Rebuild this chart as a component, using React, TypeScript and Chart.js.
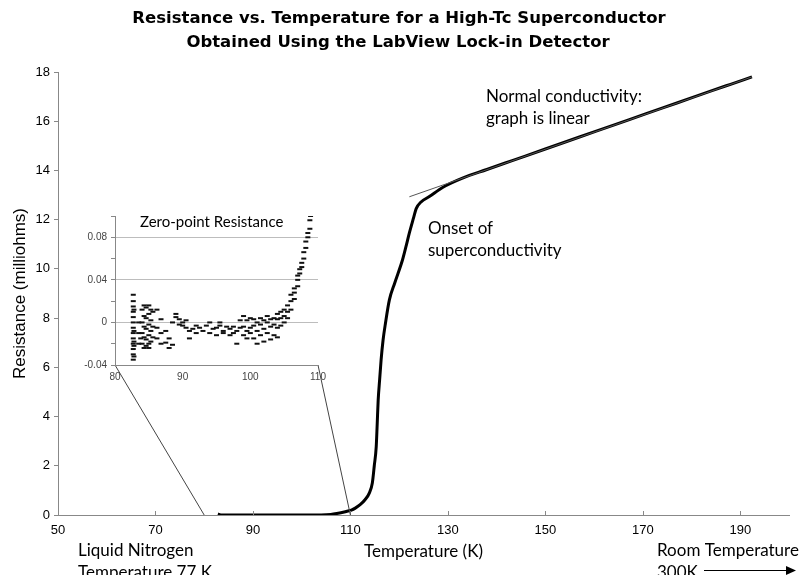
import React, { useEffect, useRef } from 'react';
import { Chart, registerables } from 'chart.js';

Chart.register(...registerables);

// ---------- data ----------
const titleLines = [
  'Resistance vs. Temperature for a High-Tc Superconductor',
  'Obtained Using the LabView Lock-in Detector',
];
const xTicks = [50, 70, 90, 110, 130, 150, 170, 190];
const yTicks = [0, 2, 4, 6, 8, 10, 12, 14, 16, 18];

// main curve: [temperature K, resistance milliohms]
const mainCurve: [number, number][] = [
  [82.8, 0.04], [83.4, 0.0], [84.5, 0.0], [86, 0], [88, 0], [90, 0], [92, 0], [94, 0],
  [96, 0], [98, 0], [100, 0], [102, 0], [104, 0], [106, 0.02], [107.5, 0.07], [108.5, 0.11],
  [109.5, 0.16], [110.2, 0.2], [111, 0.28], [112, 0.42], [113, 0.62], [113.9, 0.9],
  [114.5, 1.3], [114.9, 2.0], [115.3, 2.78], [115.5, 3.7], [115.7, 4.67], [116, 5.5],
  [116.3, 6.3], [116.7, 7.1], [117.2, 7.8], [118, 8.74], [119.1, 9.43], [120.7, 10.37],
  [121.4, 10.9], [122.1, 11.46], [123, 12.1], [123.5, 12.45], [124.5, 12.72], [126.2, 12.94],
  [129, 13.32], [133, 13.69], [138, 14.04], [143.2, 14.4], [150, 14.87], [157, 15.36],
  [164, 15.84], [170.7, 16.31], [177, 16.74], [184.2, 17.24], [188, 17.5], [192.4, 17.8],
];

// linear fit of the normal-state part
const fitLine: [number, number][] = [
  [122.1, 12.93],
  [192.4, 17.8],
];

// inset: zero-point resistance
const insetXTicks = [80, 90, 100, 110];
const insetYTicks = [-0.04, -0.02, 0, 0.02, 0.04, 0.06, 0.08, 0.1];
const insetYLabels = [-0.04, 0, 0.04, 0.08];
const zoomRange = [80, 110];

const insetPoints: [number, number][] = [
  [82.7, 0.026], [82.7, 0.02], [82.7, 0.015], [82.7, 0.01], [82.7, 0.005], [82.7, 0.0],
  [82.7, -0.005], [82.7, -0.01], [82.7, -0.015], [82.7, -0.02], [82.7, -0.025], [82.7, -0.03],
  [82.7, -0.035], [82.8, -0.032], [82.8, -0.022], [82.8, 0.012], [82.8, -0.008], [82.8, -0.018],
  [83.5, -0.01], [83.5, -0.02], [83.5, 0.0], [83.8, -0.015],
  [84.0, 0.012], [84.0, 0.0], [84.0, -0.01], [84.0, -0.02],
  [84.3, 0.016], [84.3, 0.006], [84.3, -0.004], [84.3, -0.014], [84.3, -0.024],
  [84.6, 0.014], [84.6, 0.004], [84.6, -0.006], [84.6, -0.016], [84.6, -0.022],
  [85.0, 0.016], [85.0, 0.008], [85.0, -0.002], [85.0, -0.012], [85.0, -0.02], [85.0, -0.024],
  [85.3, 0.012], [85.3, 0.002], [85.3, -0.008], [85.3, -0.018],
  [85.6, 0.01], [85.6, -0.004], [85.6, -0.014],
  [86.2, 0.012], [86.2, -0.005], [86.2, -0.015], [86.8, 0.003], [86.8, -0.01], [86.8, -0.02],
  [87.5, -0.008], [87.5, -0.019], [88.0, -0.024], [88.0, -0.015], [88.5, -0.021], [88.5, 0.0],
  [89.0, 0.008], [89.0, 0.005], [89.5, 0.003], [89.5, -0.002], [90.0, 0.0], [90.0, -0.003],
  [90.5, -0.005], [90.5, 0.002], [91.0, -0.008], [91.0, -0.015], [91.5, -0.006], [92.0, -0.003],
  [92.0, -0.01], [92.5, -0.005], [93.0, -0.008], [93.5, -0.003], [94.0, -0.01], [94.0, 0.0],
  [94.5, -0.006], [95.0, -0.005], [95.0, -0.012], [95.5, 0.0], [95.5, -0.003], [96.0, -0.008],
  [96.0, -0.01], [96.5, -0.004], [97.0, -0.012], [97.0, -0.006], [97.5, -0.004], [97.5, -0.01],
  [98.0, -0.008], [98.0, -0.02], [98.5, 0.002], [98.5, -0.005], [99.0, 0.006], [99.0, -0.004],
  [99.0, -0.012], [99.5, -0.008], [99.5, 0.002], [99.5, -0.015], [100.0, -0.01], [100.0, 0.004],
  [100.0, -0.005], [100.5, -0.015], [100.5, -0.003], [100.5, 0.003], [101.0, -0.02], [101.0, -0.008],
  [101.0, 0.0], [101.5, -0.012], [101.5, -0.002], [101.5, 0.004], [102.0, -0.018], [102.0, -0.006],
  [102.0, 0.002], [102.5, -0.01], [102.5, 0.0], [102.5, 0.006], [103.0, -0.016], [103.0, -0.004],
  [103.0, 0.003], [103.5, -0.012], [103.5, -0.002], [103.5, 0.004], [104.0, -0.014], [104.0, -0.005],
  [104.0, 0.003], [104.0, 0.008], [104.5, -0.003], [104.5, 0.004], [104.5, 0.01], [105.0, 0.0],
  [105.0, 0.006], [105.0, 0.012], [105.5, 0.004], [105.5, 0.01], [105.5, 0.016], [106.0, 0.012],
  [106.0, 0.02], [106.0, 0.026], [106.5, 0.022], [106.5, 0.028], [106.5, 0.032], [107.0, 0.034],
  [107.0, 0.04], [107.0, 0.044], [107.3, 0.046], [107.3, 0.05], [107.6, 0.052], [107.6, 0.056],
  [107.9, 0.06], [107.9, 0.066], [108.2, 0.07], [108.2, 0.076], [108.5, 0.08], [108.5, 0.084],
  [108.8, 0.088], [108.8, 0.096], [108.9, 0.1],
];

// ---------- layout constants ----------
const W = 801;
const H = 575;
const INSET_LEFT = 60;
const INSET_TOP = 200;
const INSET_W = 280;
const INSET_H = 190;

const ANNO_FONT = 'Lato, "Open Sans", sans-serif';
const AXIS_FONT = '"Liberation Sans", Arial, sans-serif';
const TITLE_FONT = '"DejaVu Sans", Verdana, sans-serif';

export default function App() {
  const mainRef = useRef<HTMLCanvasElement>(null);
  const insetRef = useRef<HTMLCanvasElement>(null);

  useEffect(() => {
    if (!mainRef.current || !insetRef.current) return;

    const insetTitle = {
      id: 'insetTitle',
      afterDraw(chart: any) {
        const ctx = chart.ctx;
        ctx.save();
        ctx.fillStyle = '#000';
        ctx.font = `15px ${ANNO_FONT}`;
        ctx.textBaseline = 'middle';
        ctx.textAlign = 'left';
        ctx.fillText('Zero-point Resistance', 80, 22);
        ctx.restore();
      },
    };

    const inset = new Chart(insetRef.current, {
      type: 'scatter',
      data: {
        datasets: [
          {
            data: insetPoints.map(([x, y]) => ({ x, y })),
            pointStyle: 'line',
            pointRadius: 2.5,
            borderWidth: 2,
            borderColor: '#111',
            backgroundColor: '#111',
          },
        ],
      },
      options: {
        responsive: false,
        animation: false,
        layout: { padding: { top: 16, right: 22, left: 0, bottom: 0 } },
        plugins: { legend: { display: false }, tooltip: { enabled: false } },
        scales: {
          x: {
            type: 'linear',
            min: zoomRange[0],
            max: zoomRange[1],
            afterBuildTicks: (s: any) => {
              s.ticks = insetXTicks.map((v) => ({ value: v }));
            },
            grid: { display: false, drawTicks: false },
            border: { color: '#888' },
            ticks: {
              font: { family: AXIS_FONT, size: 10 },
              color: '#444',
              padding: 6,
              maxRotation: 0,
              autoSkip: false,
            },
            afterFit: (s: any) => {
              s.height = 25;
            },
          },
          y: {
            type: 'linear',
            min: -0.04,
            max: 0.1,
            afterBuildTicks: (s: any) => {
              s.ticks = insetYTicks.map((v) => ({ value: v }));
            },
            grid: {
              color: (ctx: any) => {
                const v = ctx.tick ? ctx.tick.value : NaN;
                return insetYLabels.some((l) => Math.abs(l - v) < 1e-6) && v > -0.039
                  ? '#bdbdbd'
                  : 'rgba(0,0,0,0)';
              },
              tickColor: '#888',
              tickLength: 4,
            },
            border: { color: '#888' },
            ticks: {
              autoSkip: false,
              font: { family: AXIS_FONT, size: 10 },
              color: '#444',
              padding: 4,
              callback: (v: any) => {
                const n = Number(v);
                return insetYLabels.some((l) => Math.abs(l - n) < 1e-6)
                  ? String(Math.round(n * 100) / 100)
                  : '';
              },
            },
            afterFit: (s: any) => {
              s.width = 55;
            },
          },
        },
      },
      plugins: [insetTitle],
    });

    const decorations = {
      id: 'decorations',
      afterDraw(chart: any) {
        const ctx = chart.ctx;
        const xs = chart.scales.x;
        const ys = chart.scales.y;
        const area = chart.chartArea;
        ctx.save();

        // x tick marks pointing up
        ctx.strokeStyle = '#888';
        ctx.lineWidth = 1;
        xs.ticks.forEach((t: any) => {
          const px = Math.round(xs.getPixelForValue(t.value)) + 0.5;
          ctx.beginPath();
          ctx.moveTo(px, area.bottom - 4);
          ctx.lineTo(px, area.bottom);
          ctx.stroke();
        });

        // connector lines from inset corners to the zoomed range on the main axis
        const ix = inset.scales.x;
        const iy = inset.scales.y;
        ctx.strokeStyle = '#444';
        ctx.lineWidth = 1;
        zoomRange.forEach((v) => {
          const topX = INSET_LEFT + ix.getPixelForValue(v);
          const topY = INSET_TOP + iy.getPixelForValue(iy.min);
          const botX = xs.getPixelForValue(v);
          const botY = ys.getPixelForValue(0);
          ctx.beginPath();
          ctx.moveTo(topX, topY);
          ctx.lineTo(botX, botY);
          ctx.stroke();
        });

        // title
        ctx.fillStyle = '#000';
        ctx.textAlign = 'center';
        ctx.textBaseline = 'middle';
        ctx.font = `bold 16.5px ${TITLE_FONT}`;
        ctx.fillText(titleLines[0], 399, 19);
        ctx.fillText(titleLines[1], 398, 43);

        // annotations
        ctx.font = `17px ${ANNO_FONT}`;
        ctx.textAlign = 'left';
        ctx.fillText('Normal conductivity:', 486, 97);
        ctx.fillText('graph is linear', 486, 119);
        ctx.fillText('Onset of', 428, 229);
        ctx.fillText('superconductivity', 428, 251);
        ctx.fillText('Liquid Nitrogen', 78, 551);
        ctx.fillText('Temperature 77 K', 78, 573);
        ctx.fillText('Room Temperature', 657, 551);
        ctx.fillText('300K', 657, 573);

        // arrow to the right
        ctx.strokeStyle = '#000';
        ctx.beginPath();
        ctx.moveTo(704, 570.5);
        ctx.lineTo(788, 570.5);
        ctx.stroke();
        ctx.beginPath();
        ctx.moveTo(796, 570.5);
        ctx.lineTo(786, 566);
        ctx.lineTo(786, 575);
        ctx.closePath();
        ctx.fill();

        ctx.restore();
      },
    };

    const main = new Chart(mainRef.current, {
      type: 'scatter',
      data: {
        datasets: [
          {
            data: fitLine.map(([x, y]) => ({ x, y })),
            showLine: true,
            borderColor: '#555',
            borderWidth: 1,
            pointRadius: 0,
          },
          {
            data: mainCurve.map(([x, y]) => ({ x, y })),
            showLine: true,
            borderColor: '#000',
            backgroundColor: '#000',
            borderWidth: 3,
            pointRadius: 0,
            cubicInterpolationMode: 'monotone',
          },
        ],
      },
      options: {
        responsive: false,
        animation: false,
        layout: { padding: { top: 72, right: 12, left: 0, bottom: 0 } },
        plugins: { legend: { display: false }, tooltip: { enabled: false } },
        scales: {
          x: {
            type: 'linear',
            min: 50,
            max: 200,
            afterBuildTicks: (s: any) => {
              s.ticks = xTicks.map((v) => ({ value: v }));
            },
            grid: { display: false, drawTicks: false },
            border: { color: '#888' },
            ticks: {
              font: { family: AXIS_FONT, size: 13 },
              color: '#000',
              padding: 8,
              maxRotation: 0,
              autoSkip: false,
            },
            title: {
              display: true,
              text: 'Temperature (K)',
              font: { family: ANNO_FONT, size: 17 },
              color: '#000',
              padding: { top: 0, bottom: 13 },
            },
            afterFit: (s: any) => {
              s.height = 60;
            },
          },
          y: {
            type: 'linear',
            min: 0,
            max: 18,
            afterBuildTicks: (s: any) => {
              s.ticks = yTicks.map((v) => ({ value: v }));
            },
            grid: { drawOnChartArea: false, color: '#888', tickLength: 4 },
            border: { color: '#888' },
            ticks: {
              font: { family: AXIS_FONT, size: 13 },
              color: '#000',
              padding: 4,
              autoSkip: false,
            },
            title: {
              display: true,
              text: 'Resistance (milliohms)',
              font: { family: AXIS_FONT, size: 17 },
              color: '#000',
              padding: { top: 10, bottom: 0 },
            },
            afterFit: (s: any) => {
              s.width = 58;
            },
          },
        },
      },
      plugins: [decorations],
    });

    return () => {
      main.destroy();
      inset.destroy();
    };
  }, []);

  return (
    <div style={{ position: 'absolute', left: 0, top: 0, width: W, height: H, background: '#fff' }}>
      <canvas
        ref={mainRef}
        width={W}
        height={H}
        style={{ position: 'absolute', left: 0, top: 0, width: W, height: H }}
      />
      <canvas
        ref={insetRef}
        width={INSET_W}
        height={INSET_H}
        style={{ position: 'absolute', left: INSET_LEFT, top: INSET_TOP, width: INSET_W, height: INSET_H }}
      />
    </div>
  );
}
